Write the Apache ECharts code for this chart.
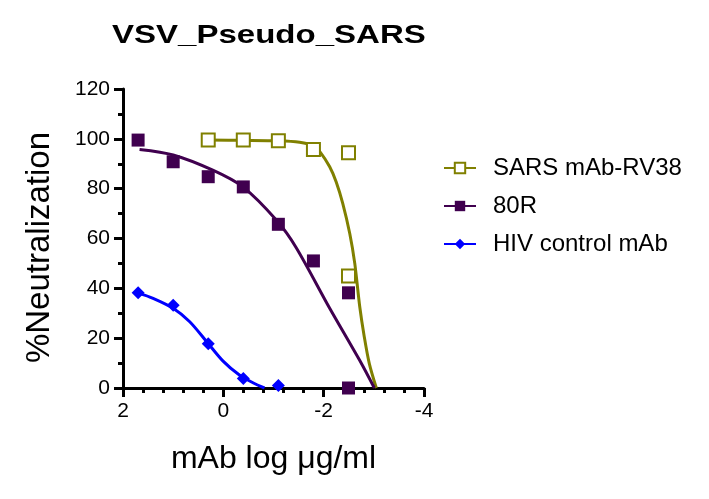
<!DOCTYPE html>
<html>
<head>
<meta charset="utf-8">
<script src="https://cdn.jsdelivr.net/npm/echarts@6/dist/echarts.min.js"></script>
<style>html,body{margin:0;padding:0;background:#fff;}#c{width:709px;height:499px;}</style>
</head>
<body>
<div id="c"></div>
<script>
// ---- data ----
const titleText = 'VSV_Pseudo_SARS';
const seriesNames = ['SARS mAb-RV38', '80R', 'HIV control mAb'];
const colors = ['#808000', '#40004f', '#0000ff'];

// measured points (log ug/ml, % neutralization)
const sarsDose = [0.301, -0.398, -1.097, -1.796, -2.495, -2.495];
const sarsVal  = [99.5, 99.5, 99.2, 95.7, 94.4, 45.0];
const r80Dose  = [1.699, 1.0, 0.301, -0.398, -1.097, -1.796, -2.495, -2.495];
const r80Val   = [99.5, 90.8, 84.8, 80.7, 65.7, 51.0, 38.2, 0.0];
const hivDose  = [1.699, 1.0, 0.301, -0.398, -1.097];
const hivVal   = [38.2, 33.2, 17.8, 3.8, 1.0];

// fitted curves
const sarsFitX = [0.301, -0.4, -1.1, -1.52, -1.8, -1.92, -2.12, -2.25, -2.38, -2.52, -2.62, -2.72, -2.81, -2.91, -3.05];
const sarsFitY = [99.5, 99.4, 99.2, 98.6, 97.2, 95.0, 88.8, 82.7, 74.1, 62.0, 50.0, 32.5, 20.5, 9.8, 0.0];
const r80FitX  = [1.67, 1.0, 0.21, -0.39, -1.06, -1.45, -2.12, -2.72, -3.01];
const r80FitY  = [95.7, 93.5, 87.4, 80.7, 67.3, 56.4, 32.0, 11.0, 0.0];
const hivFitX  = [1.70, 1.40, 1.0, 0.67, 0.34, 0.01, -0.32, -0.59, -0.82];
const hivFitY  = [38.2, 36.0, 32.0, 26.6, 18.8, 10.9, 5.2, 2.1, 0.0];

const xTicks = { min: -4, max: 2, interval: 2 };
const yTicks = { min: 0, max: 120, interval: 20 };

const zip = (a, b) => a.map((v, i) => [v, b[i]]);
const FONT = '"Liberation Sans", Arial, sans-serif';

const symbols = ['emptyRect', 'rect', 'diamond'];
const fitX = [sarsFitX, r80FitX, hivFitX];
const fitY = [sarsFitY, r80FitY, hivFitY];
const ptX = [sarsDose, r80Dose, hivDose];
const ptY = [sarsVal, r80Val, hivVal];
const ptSize = [13, 13, 13];

const series = [];
for (let i = 0; i < 3; i++) {
  series.push({
    name: seriesNames[i], type: 'line', data: zip(fitX[i], fitY[i]),
    showSymbol: false, symbol: symbols[i], smooth: 0.3,
    lineStyle: { color: colors[i], width: 3 },
    itemStyle: { color: colors[i], borderColor: colors[i] },
    z: 2, silent: true
  });
}
for (let i = 0; i < 3; i++) {
  series.push({
    name: seriesNames[i] + ' pts', type: 'scatter', data: zip(ptX[i], ptY[i]),
    symbol: symbols[i], symbolSize: ptSize[i],
    itemStyle: i === 0 ? { color: colors[i], borderColor: colors[i], borderWidth: 3.5, opacity: 1 }
                       : { color: colors[i], opacity: 1 },
    z: 3, silent: true
  });
}

const chart = echarts.init(document.getElementById('c'));
chart.setOption({
  animation: false,
  backgroundColor: '#fff',
  graphic: [{
    type: 'text', left: 112, top: 23, scaleX: 1.27, silent: true,
    style: { text: titleText, fill: '#000', font: 'bold 26px "Liberation Sans", Arial, sans-serif' }
  }],
  legend: {
    orient: 'vertical', left: 438, top: 151,
    data: seriesNames, itemWidth: 32, itemHeight: 13, itemGap: 14,
    textStyle: { fontFamily: FONT, fontSize: 24, color: '#000', padding: [0, 0, 0, 12] }
  },
  grid: { left: 123, right: 285, top: 89, bottom: 111 },
  xAxis: {
    type: 'value', inverse: true, min: xTicks.min, max: xTicks.max, interval: xTicks.interval,
    name: 'mAb log \u03bcg/ml', nameLocation: 'middle', nameGap: 55,
    nameTextStyle: { fontFamily: FONT, fontSize: 32, color: '#000' },
    axisLine: { onZero: false, lineStyle: { color: '#000', width: 3 } },
    axisTick: { length: 9, lineStyle: { color: '#000', width: 3 } },
    minorTick: { show: true, splitNumber: 5, length: 5, lineStyle: { color: '#000', width: 3 } },
    axisLabel: { fontFamily: FONT, fontSize: 21, color: '#000', margin: 13 },
    splitLine: { show: false }
  },
  yAxis: {
    type: 'value', min: yTicks.min, max: yTicks.max, interval: yTicks.interval,
    name: '%Neutralization', nameLocation: 'middle', nameGap: 67, nameRotate: 90,
    nameTextStyle: { fontFamily: FONT, fontSize: 33, color: '#000', padding: [0, 18, 0, 0] },
    axisLine: { show: true, onZero: false, lineStyle: { color: '#000', width: 3 } },
    axisTick: { show: true, length: 9, lineStyle: { color: '#000', width: 3 } },
    minorTick: { show: true, splitNumber: 2, length: 5, lineStyle: { color: '#000', width: 3 } },
    axisLabel: { fontFamily: FONT, fontSize: 21, color: '#000', margin: 13 },
    splitLine: { show: false }
  },
  series: series
});
</script>
</body>
</html>
